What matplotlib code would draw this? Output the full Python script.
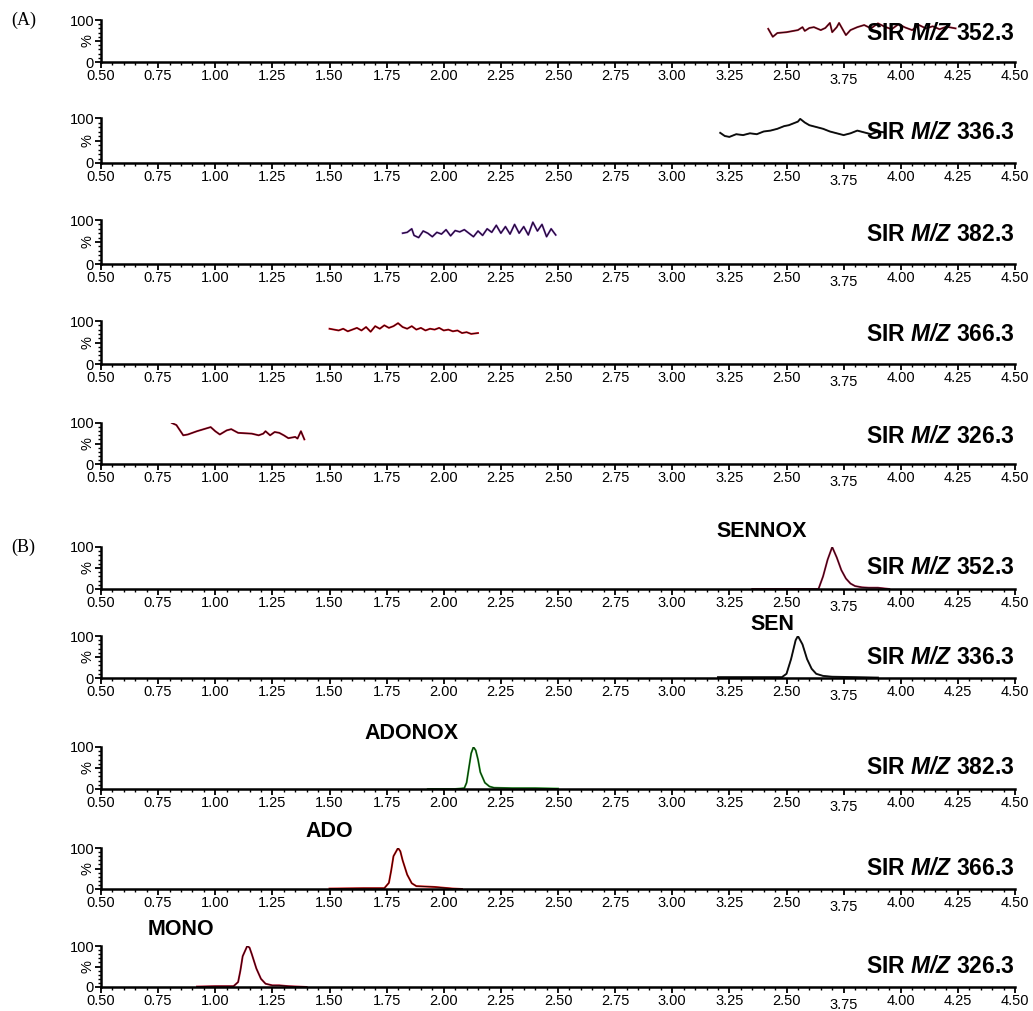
import numpy as np
import matplotlib.pyplot as plt
from matplotlib.ticker import MultipleLocator, FixedLocator
from matplotlib.transforms import ScaledTranslation, blended_transform_factory

plt.rcParams['font.family'] = ['Liberation Sans', 'DejaVu Sans']
plt.rcParams['mathtext.fontset'] = 'custom'
plt.rcParams['mathtext.bfit'] = 'Liberation Sans:italic:bold'
plt.rcParams['mathtext.rm'] = 'Liberation Sans:bold'

# channel names (same order in both panels)
channels = ['352.3', '336.3', '382.3', '366.3', '326.3']

# x tick values and the labels as printed on the original
tick_vals = [0.50, 0.75, 1.00, 1.25, 1.50, 1.75, 2.00, 2.25, 2.50, 2.75,
             3.00, 3.25, 3.50, 3.75, 4.00, 4.25, 4.50]
tick_labels = ['0.50', '0.75', '1.00', '1.25', '1.50', '1.75', '2.00', '2.25',
               '2.50', '2.75', '3.00', '3.25', '2.50', '3.75', '4.00', '4.25',
               '4.50']

# ---- panel A: blank matrix traces ----
a1_x = [3.42, 3.44, 3.46, 3.50, 3.55, 3.57, 3.58, 3.60, 3.62, 3.65, 3.67, 3.69,
        3.70, 3.72, 3.73, 3.76, 3.78, 3.81, 3.84, 3.87, 3.90, 3.93, 3.96, 3.99,
        4.02, 4.05, 4.08, 4.11, 4.14, 4.17, 4.20, 4.24]
a1_y = [79, 60, 69, 71, 76, 83, 74, 81, 83, 76, 81, 93,
        71, 83, 93, 64, 76, 83, 88, 80, 92, 84, 78, 90,
        82, 76, 88, 80, 85, 78, 84, 80]

a2_x = [3.21, 3.23, 3.25, 3.28, 3.31, 3.34, 3.37, 3.40, 3.43, 3.46, 3.49, 3.51,
        3.53, 3.55, 3.56, 3.58, 3.60, 3.63, 3.66, 3.69, 3.72, 3.75, 3.78, 3.81,
        3.84, 3.87, 3.90, 3.93]
a2_y = [67, 60, 58, 64, 62, 66, 64, 70, 72, 76, 82, 84,
        88, 92, 98, 90, 84, 80, 76, 70, 66, 62, 66, 72,
        68, 64, 70, 68]

a3_x = [1.82, 1.84, 1.86, 1.87, 1.89, 1.91, 1.93, 1.95, 1.97, 1.99, 2.01, 2.03,
        2.05, 2.07, 2.09, 2.11, 2.13, 2.15, 2.17, 2.19, 2.21, 2.23, 2.25, 2.27,
        2.29, 2.31, 2.33, 2.35, 2.37, 2.39, 2.41, 2.43, 2.45, 2.47, 2.49]
a3_y = [70, 72, 80, 65, 60, 75, 70, 62, 72, 68, 78, 64,
        76, 73, 78, 70, 62, 75, 65, 80, 72, 88, 70, 85,
        68, 90, 70, 85, 66, 95, 75, 90, 62, 80, 66]

a4_x = [1.50, 1.52, 1.54, 1.56, 1.58, 1.60, 1.62, 1.64, 1.66, 1.68, 1.70, 1.72,
        1.74, 1.76, 1.78, 1.80, 1.82, 1.84, 1.86, 1.88, 1.90, 1.92, 1.94, 1.96,
        1.98, 2.00, 2.02, 2.04, 2.06, 2.08, 2.10, 2.12, 2.15]
a4_y = [82, 80, 78, 82, 76, 80, 84, 78, 86, 75, 88, 82,
        90, 84, 88, 95, 86, 82, 88, 80, 84, 78, 82, 80,
        84, 78, 80, 76, 78, 72, 74, 70, 72]

a5_x = [0.81, 0.83, 0.86, 0.88, 0.92, 0.95, 0.98, 1.00, 1.02, 1.05, 1.07, 1.10,
        1.13, 1.16, 1.19, 1.21, 1.22, 1.24, 1.26, 1.28, 1.30, 1.32, 1.35, 1.36,
        1.375, 1.39]
a5_y = [100, 95, 70, 72, 80, 85, 90, 80, 72, 82, 85, 76,
        75, 74, 70, 74, 80, 70, 78, 76, 70, 63, 66, 62,
        80, 60]

# ---- panel B: standards ----
b1_x = [3.35, 3.50, 3.64, 3.66, 3.68, 3.70, 3.72, 3.74, 3.76, 3.78, 3.80, 3.83,
        3.86, 3.90, 3.95]
b1_y = [0, 0, 0, 30, 70, 100, 75, 45, 25, 13, 7, 4, 3, 3, 0]

b2_x = [3.20, 3.35, 3.48, 3.50, 3.52, 3.54, 3.55, 3.57, 3.59, 3.61, 3.63, 3.66,
        3.70, 3.80, 3.90]
b2_y = [2, 2, 2, 10, 45, 90, 100, 80, 45, 22, 10, 5, 3, 2, 1]

b3_x = [1.93, 2.05, 2.09, 2.10, 2.11, 2.12, 2.13, 2.14, 2.15, 2.16, 2.18, 2.20,
        2.22, 2.30, 2.40, 2.50]
b3_y = [0, 0, 2, 15, 50, 85, 100, 92, 70, 40, 15, 6, 3, 2, 2, 1]

b4_x = [1.50, 1.65, 1.74, 1.76, 1.77, 1.78, 1.80, 1.81, 1.82, 1.84, 1.86, 1.88,
        1.92, 1.96, 2.00, 2.04, 2.08]
b4_y = [1, 2, 2, 15, 45, 80, 100, 92, 70, 35, 14, 7, 6, 5, 3, 1, 0]

b5_x = [0.92, 1.00, 1.08, 1.10, 1.11, 1.12, 1.14, 1.15, 1.16, 1.18, 1.20, 1.22,
        1.25, 1.28, 1.32, 1.40]
b5_y = [1, 2, 2, 12, 40, 75, 100, 96, 80, 45, 20, 8, 4, 4, 2, 0]

peak_names = ['SENNOX', 'SEN', 'ADONOX', 'ADO', 'MONO']

traces_a = [(a1_x, a1_y), (a2_x, a2_y), (a3_x, a3_y), (a4_x, a4_y), (a5_x, a5_y)]
traces_b = [(b1_x, b1_y), (b2_x, b2_y), (b3_x, b3_y), (b4_x, b4_y), (b5_x, b5_y)]
colors_a = ['#b0203a', '#222222', '#7a3ab0', '#e01020', '#c01030']
colors_b = ['#b0204a', '#222222', '#30b030', '#e01010', '#c01030']

# pixel geometry of the original (top, bottom of each strip)
W, H = 1033, 1011
rows_a = [(20, 62), (118, 163), (220, 264), (321, 364), (423, 464)]
rows_b = [(547, 589), (636, 678), (747, 789), (848, 889), (946, 987)]
left_px, right_px = 101, 1015
# peak label positions: (x in data, y in axes fraction)
peak_pos = [(3.39, 1.36), (3.44, 1.28), (1.86, 1.33), (1.50, 1.40), (0.85, 1.40)]

fig = plt.figure(figsize=(W / 100, H / 100), dpi=100)


def make_axes(top, bottom):
    ax = fig.add_axes([left_px / W, 1 - bottom / H, (right_px - left_px) / W,
                       (bottom - top) / H])
    ax.set_xlim(0.5, 4.5)
    ax.set_ylim(0, 100)
    for s in ['top', 'right']:
        ax.spines[s].set_visible(False)
    for s in ['left', 'bottom']:
        ax.spines[s].set_linewidth(1.8)
    ax.xaxis.set_major_locator(FixedLocator(tick_vals))
    ax.set_xticklabels(tick_labels)
    ax.xaxis.set_minor_locator(MultipleLocator(0.05))
    ax.set_yticks([0, 50, 100])
    ax.set_yticklabels(['0', '%', '100'])
    ax.yaxis.set_minor_locator(MultipleLocator(10))
    ax.tick_params(axis='both', which='major', direction='out', length=4,
                   width=1.3, labelsize=10.5, pad=1)
    ax.tick_params(axis='both', which='minor', direction='out', length=2.5,
                   width=1.0)
    ylabs = ax.get_yticklabels()
    ylabs[1].set_rotation(90)
    ylabs[1].set_va('center')
    # the 3.75 label sits a bit lower on the original
    xl = ax.get_xticklabels()[13]
    xl.set_transform(xl.get_transform() +
                     ScaledTranslation(0, -3 / 72, fig.dpi_scale_trans))
    return ax


def draw_trace(ax, x, y, c):
    ax.plot(x, y, color=c, lw=1.4, solid_joinstyle='round')
    ax.plot(x, y, color='black', lw=0.7, alpha=0.8)


for i, (top, bottom) in enumerate(rows_a):
    ax = make_axes(top, bottom)
    x, y = traces_a[i]
    draw_trace(ax, x, y, colors_a[i])
    ax.text(1.0, 0.68, r'SIR $\mathbfit{M/Z}$ ' + channels[i],
            transform=ax.transAxes, ha='right', va='center',
            fontsize=16.5, fontweight='bold')
    if i == 0:
        ax.text(-0.098, 1.0, '(A)', transform=ax.transAxes, ha='left',
                va='center', fontsize=13, family='Liberation Serif')

for i, (top, bottom) in enumerate(rows_b):
    ax = make_axes(top, bottom)
    x, y = traces_b[i]
    draw_trace(ax, x, y, colors_b[i])
    ax.text(1.0, 0.5, r'SIR $\mathbfit{M/Z}$ ' + channels[i],
            transform=ax.transAxes, ha='right', va='center',
            fontsize=16.5, fontweight='bold')
    trans = blended_transform_factory(ax.transData, ax.transAxes)
    px, py = peak_pos[i]
    ax.text(px, py, peak_names[i], transform=trans, ha='center', va='center',
            fontsize=15.5, fontweight='bold')
    if i == 0:
        ax.text(-0.098, 1.0, '(B)', transform=ax.transAxes, ha='left',
                va='center', fontsize=13, family='Liberation Serif')

fig.savefig('out.png', dpi=100)
